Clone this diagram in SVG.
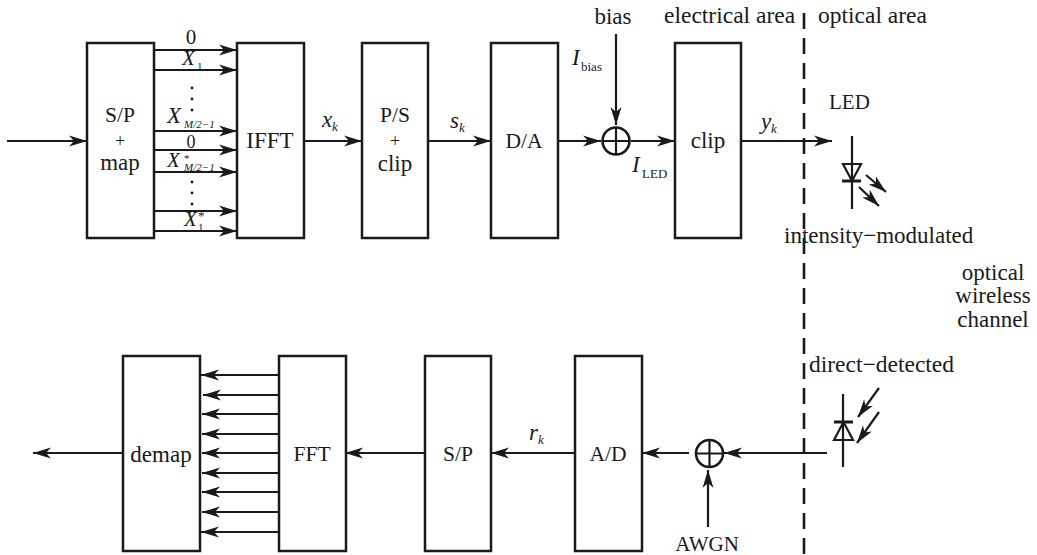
<svg xmlns="http://www.w3.org/2000/svg" width="1037" height="555" viewBox="0 0 1037 555">
<style>
text{font-family:"Liberation Serif","Times New Roman",serif;fill:#1a1a1a;font-size:23px}
.c{text-anchor:middle}
.i{font-style:italic}
.u{font-size:21.500px}
.s{font-size:13px}
.t{font-size:11px}
.m{font-size:21px}
.p{font-size:18px}
.l{font-size:23.500px}
.box{fill:#fff;stroke:#1a1a1a;stroke-width:2.500}
.ln{fill:none;stroke:#1a1a1a;stroke-width:2.200}
.a{fill:none;stroke:#1a1a1a;stroke-width:2.200;marker-end:url(#ah)}
.dot{fill:#1a1a1a}
</style>
<defs>
<marker id="ah" markerUnits="userSpaceOnUse" markerWidth="20" markerHeight="12" refX="18" refY="6" orient="auto">
<path d="M0,0.500 L18,6 L0,11.500 L5,6 Z" fill="#1a1a1a"/>
</marker>
</defs>
<g id="connectors">
<path class="a" d="M7,141H87"/>
<path class="a" d="M154,50H237"/><path class="a" d="M154,70H237"/><path class="a" d="M154,131H237"/><path class="a" d="M154,150H237"/><path class="a" d="M154,172H237"/><path class="a" d="M154,211H237"/><path class="a" d="M154,231H237"/>
<path class="a" d="M304,141H362"/>
<path class="a" d="M428,141H491"/>
<path class="a" d="M558,141H601"/>
<path class="a" d="M631,141H675"/>
<path class="a" d="M616,34V125"/>
<path class="a" d="M741,141H832"/>
<path class="a" d="M827,453H724"/>
<path class="a" d="M708,527V470"/>
<path class="a" d="M689,453H642"/>
<path class="a" d="M575,453H491"/>
<path class="a" d="M425,453H345"/>
<path class="a" d="M279,375H201"/><path class="a" d="M279,395H203"/><path class="a" d="M279,414H202"/><path class="a" d="M279,434H202"/><path class="a" d="M279,453H202"/><path class="a" d="M279,473H202"/><path class="a" d="M279,492H202"/><path class="a" d="M279,512H202"/><path class="a" d="M279,532H201"/>
<path class="a" d="M123,453H33"/>
<path d="M804,13V555" fill="none" stroke="#1a1a1a" stroke-width="2.600" stroke-dasharray="16 9"/>
</g>
<g id="sp-map"><rect class="box" x="87" y="43" width="67" height="195"/><text class="c u" x="120" y="122">S/P</text><text class="c p" x="120" y="147">+</text><text class="c" x="120" y="170">map</text></g>
<g id="ifft"><rect class="box" x="237" y="43" width="67" height="195"/><text class="c" x="270" y="148">IFFT</text></g>
<g id="ps-clip"><rect class="box" x="362" y="43" width="66" height="195"/><text class="c u" x="395" y="122">P/S</text><text class="c p" x="395" y="147">+</text><text class="c" x="395" y="171">clip</text></g>
<g id="da"><rect class="box" x="491" y="43" width="67" height="195"/><text class="c u" x="524" y="148">D/A</text></g>
<g id="adder1"><circle cx="616" cy="141" r="13.500" fill="#fff" stroke="#1a1a1a" stroke-width="2.600"/><path class="ln" d="M603,141H629M616,128V154"/></g>
<g id="clip"><rect class="box" x="675" y="43" width="66" height="195"/><text class="c" x="708" y="148">clip</text></g>
<g id="demap"><rect class="box" x="123" y="356" width="77" height="195"/><text class="c" x="161" y="462">demap</text></g>
<g id="fft"><rect class="box" x="279" y="356" width="67" height="195"/><text class="c u" x="312" y="461">FFT</text></g>
<g id="sp"><rect class="box" x="425" y="356" width="66" height="195"/><text class="c u" x="458" y="461">S/P</text></g>
<g id="ad"><rect class="box" x="575" y="356" width="67" height="195"/><text class="c u" x="608" y="461">A/D</text></g>
<g id="adder2"><circle cx="709.500" cy="453.500" r="13.500" fill="#fff" stroke="#1a1a1a" stroke-width="2.600"/><path class="ln" d="M696,453.500H723M709.500,440V467"/></g>
<g id="led">
<path class="ln" d="M852,136V209"/><path d="M843,164H861L852,181Z" fill="none" stroke="#1a1a1a" stroke-width="2.200"/><path d="M842,181H861" fill="none" stroke="#1a1a1a" stroke-width="3"/>
<path class="a" d="M866,175L886,192"/><path class="a" d="M859,187L879,206"/>
</g>
<g id="pd">
<path class="ln" d="M843,394V467"/><path d="M834,440H853L843.500,422Z" fill="none" stroke="#1a1a1a" stroke-width="2.200"/><path d="M834,422H853" fill="none" stroke="#1a1a1a" stroke-width="3"/>
<path class="a" d="M879,388L858,417"/><path class="a" d="M879,412L857,443"/>
</g>
<g id="labels">
<text class="c m" x="191" y="44">0</text>
<text class="i m" x="182" y="65">X</text><text class="t" x="197" y="70">1</text>
<circle class="dot" cx="192" cy="88" r="1.400"/><circle class="dot" cx="192" cy="99" r="1.400"/><circle class="dot" cx="192" cy="110" r="1.400"/>
<text class="i" x="167" y="123">X</text><text class="t i" x="184" y="128">M/2−1</text>
<text class="c p" x="191" y="148">0</text>
<text class="i m" x="167" y="167">X</text><text class="t" x="184" y="162">*</text><text class="t i" x="184" y="171">M/2−1</text>
<circle class="dot" cx="192" cy="182" r="1.400"/><circle class="dot" cx="192" cy="193" r="1.400"/><circle class="dot" cx="192" cy="204" r="1.400"/>
<text class="i m" x="184" y="226">X</text><text class="s" x="198" y="220">*</text><text class="t" x="198" y="231">1</text>
<text class="i" x="322" y="127">x</text><text class="s i" x="332" y="131">k</text>
<text class="i" x="450" y="128">s</text><text class="s i" x="459" y="132">k</text>
<text class="c" x="613" y="24">bias</text>
<text class="i" x="572" y="65">I</text><text class="s" x="581" y="71">bias</text>
<text class="i" x="632" y="172">I</text><text class="s" x="642" y="178">LED</text>
<text class="l" x="664" y="23">electrical area</text>
<text class="l" x="818" y="23">optical area</text>
<text class="i" x="761" y="129">y</text><text class="s i" x="771" y="133">k</text>
<text class="m" x="829" y="109">LED</text>
<text x="784" y="243">intensity−modulated</text>
<text class="c" x="993" y="280">optical</text><text class="c" x="993" y="303">wireless</text><text class="c" x="993" y="327">channel</text>
<text class="l" x="809" y="372">direct−detected</text>
<text class="i" x="529" y="440">r</text><text class="s i" x="538" y="444">k</text>
<text class="c m" x="707" y="551">AWGN</text>
</g>
</svg>
